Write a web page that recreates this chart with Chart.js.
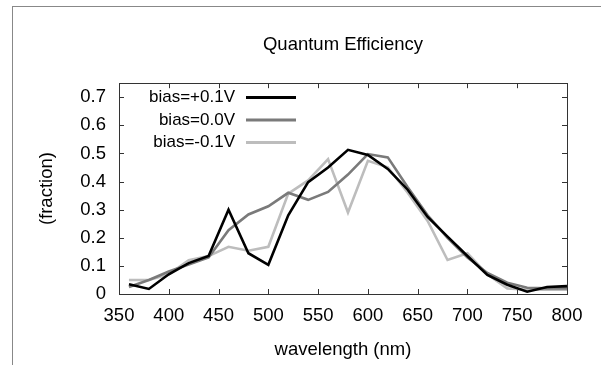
<!DOCTYPE html>
<html>
<head>
<meta charset="utf-8">
<script src="https://cdn.jsdelivr.net/npm/chart.js@4.4.1/dist/chart.umd.min.js"></script>
<style>
  html, body { margin: 0; padding: 0; background: #fff; }
  #wrap { position: relative; width: 601px; height: 365px; }
  #frame { position: absolute; left: 12px; top: 6px; width: 600px; height: 370px;
           border-left: 1px solid #888; border-top: 1px solid #888; }
  canvas { position: absolute; left: 0; top: 0; }
</style>
</head>
<body>
<div id="wrap">
  <div id="frame"></div>
  <canvas id="qe" width="601" height="365"></canvas>
</div>
<script>
// wavelength samples (nm)
var wavelengths = [360, 380, 400, 420, 440, 460, 480, 500, 520, 540, 560, 580,
                   600, 620, 640, 660, 680, 700, 720, 740, 760, 780, 800];
// quantum efficiency (fraction) for each bias
var biasPlus  = [0.035, 0.018, 0.07, 0.11, 0.135, 0.30, 0.145, 0.104, 0.28, 0.398, 0.45, 0.513,
                 0.495, 0.445, 0.371, 0.274, 0.204, 0.135, 0.068, 0.033, 0.008, 0.025, 0.028];
var biasZero  = [0.025, 0.05, 0.08, 0.105, 0.13, 0.227, 0.283, 0.312, 0.36, 0.335, 0.363, 0.425,
                 0.498, 0.486, 0.38, 0.28, 0.2, 0.13, 0.075, 0.04, 0.022, 0.02, 0.02];
var biasMinus = [0.05, 0.05, 0.07, 0.12, 0.135, 0.168, 0.154, 0.168, 0.357, 0.404, 0.48, 0.29,
                 0.474, 0.451, 0.36, 0.26, 0.121, 0.145, 0.07, 0.02, 0.015, 0.015, 0.015];
var seriesLabels = ['bias=+0.1V', 'bias=0.0V', 'bias=-0.1V'];
var seriesColors = ['#000000', '#7a7a7a', '#bdbdbd'];
var yTickValues = [0, 0.1, 0.2, 0.3, 0.4, 0.5, 0.6, 0.7];

function pts(vals){
  return wavelengths.map(function(w, i){ return {x: w, y: vals[i]}; });
}

var FONT = 'Arial, "Liberation Sans", sans-serif';

// gnuplot-like frame with inward tick marks on all four sides
var framePlugin = {
  id: 'frame',
  afterDatasetsDraw: function(chart){
    var ctx = chart.ctx, a = chart.chartArea;
    var xs = chart.scales.x, ys = chart.scales.y;
    ctx.save();
    ctx.strokeStyle = '#333';
    ctx.lineWidth = 1;
    ctx.beginPath();
    xs.ticks.forEach(function(t){
      var px = Math.round(xs.getPixelForValue(t.value)) + 0.5;
      ctx.moveTo(px, a.bottom); ctx.lineTo(px, a.bottom - 5);
      ctx.moveTo(px, a.top); ctx.lineTo(px, a.top + 5);
    });
    ys.ticks.forEach(function(t){
      var py = Math.round(ys.getPixelForValue(t.value)) + 0.5;
      ctx.moveTo(a.left, py); ctx.lineTo(a.left + 5, py);
      ctx.moveTo(a.right, py); ctx.lineTo(a.right - 5, py);
    });
    ctx.stroke();
    ctx.strokeRect(Math.round(a.left) + 0.5, Math.round(a.top) + 0.5,
                   Math.round(a.right - a.left), Math.round(a.bottom - a.top));
    ctx.restore();
  }
};

// legend: label text right-aligned, line sample on its right
var keyPlugin = {
  id: 'key',
  afterDraw: function(chart){
    var ctx = chart.ctx;
    ctx.save();
    ctx.font = '17px ' + FONT;
    ctx.textAlign = 'right';
    ctx.textBaseline = 'middle';
    seriesLabels.forEach(function(lbl, i){
      var y = 97.5 + i * 22.5;
      ctx.fillStyle = '#000';
      ctx.fillText(lbl, 235, y);
      ctx.strokeStyle = seriesColors[i];
      ctx.lineWidth = 3;
      ctx.beginPath();
      ctx.moveTo(246, y); ctx.lineTo(296, y);
      ctx.stroke();
    });
    ctx.restore();
  }
};

var allSeries = [biasPlus, biasZero, biasMinus];
var datasets = allSeries.map(function(v, i){
  return {
    label: seriesLabels[i],
    data: pts(v),
    borderColor: seriesColors[i],
    borderWidth: 2.6,
    pointRadius: 0,
    tension: 0,
    fill: false,
    order: i   // black drawn on top
  };
});

new Chart(document.getElementById('qe').getContext('2d'), {
  type: 'line',
  data: { datasets: datasets },
  options: {
    responsive: false,
    animation: false,
    layout: { padding: { left: 0, right: 34, top: 0, bottom: 0 } },
    plugins: {
      legend: { display: false },
      tooltip: { enabled: false },
      title: {
        display: true,
        fullSize: false,
        text: 'Quantum Efficiency',
        color: '#000',
        font: { family: FONT, size: 18.5, weight: 'normal' },
        padding: { top: 34, bottom: 27 }
      }
    },
    scales: {
      x: {
        type: 'linear',
        min: 350, max: 800,
        afterFit: function(s){ s.height = 71; },
        ticks: { stepSize: 50, color: '#000', padding: 11, maxRotation: 0,
                 font: { family: FONT, size: 18.5 } },
        grid: { display: false, drawTicks: false },
        border: { display: false },
        title: { display: true, text: 'wavelength (nm)', color: '#000',
                 font: { family: FONT, size: 18.5 }, padding: { top: 0, bottom: 4 } }
      },
      y: {
        min: 0, max: 0.75,
        afterFit: function(s){ s.width = 119; },
        afterBuildTicks: function(s){
          s.ticks = yTickValues.map(function(v){ return {value: v}; });
        },
        ticks: { color: '#000', padding: 13,
                 font: { family: FONT, size: 18.5 } },
        grid: { display: false, drawTicks: false },
        border: { display: false },
        title: { display: true, text: '(fraction)', color: '#000',
                 font: { family: FONT, size: 18.5 }, padding: { top: 36, bottom: 0 } }
      }
    }
  },
  plugins: [framePlugin, keyPlugin]
});
</script>
</body>
</html>
